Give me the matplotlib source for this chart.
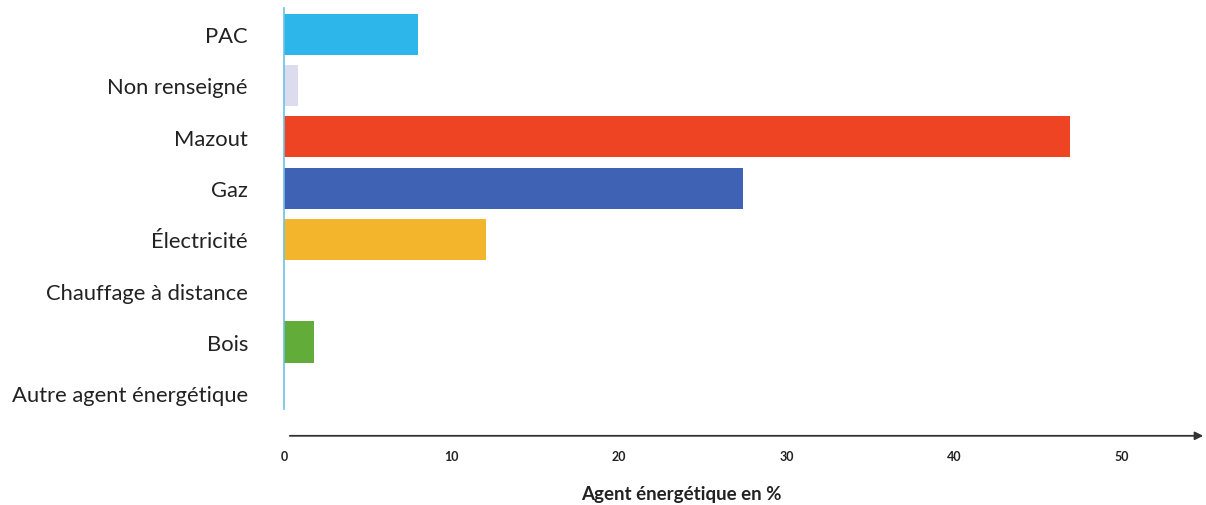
import matplotlib.pyplot as plt

# categories, top to bottom
categories = ["PAC", "Non renseigné", "Mazout", "Gaz", "Électricité",
              "Chauffage à distance", "Bois", "Autre agent énergétique"]
valeurs = [8.0, 0.85, 46.9, 27.4, 12.05, 0.0, 1.8, 0.0]
couleurs = ["#2cb6ea", "#dcdcee", "#ee4424", "#3f62b4", "#f3b52b",
            "#ffffff", "#62ad3a", "#ffffff"]
ticks = [0, 10, 20, 30, 40, 50]

plt.rcParams['font.family'] = ['Lato', 'DejaVu Sans']

fig = plt.figure(figsize=(12.06, 5.06), dpi=100)
ax = fig.add_axes([0.2355, 0.17, 0.7645, 0.8114])

y = list(range(len(categories)))
ax.barh(y, valeurs, height=0.8, color=couleurs)
ax.set_ylim(len(categories) - 0.5, -0.5)
ax.set_xlim(0, 55.0)

ax.set_yticks(y)
ax.set_yticklabels(categories, fontsize=15.8, color="#222222")
ax.tick_params(axis='y', length=0, pad=26)

ax.set_xticks(ticks)
ax.set_xticklabels([str(t) for t in ticks], fontsize=9, fontweight='bold',
                   color="#222222")
ax.tick_params(axis='x', length=0, pad=22)

for s in ['top', 'right', 'bottom']:
    ax.spines[s].set_visible(False)
ax.spines['left'].set_color("#6cc0e6")
ax.spines['left'].set_linewidth(1.2)
ax.spines['left'].set_bounds(-0.5, 7.3)

# fleche de l'axe horizontal
ax.annotate("", xy=(1.0, -0.041), xytext=(0.0033, -0.041),
            xycoords='axes fraction', textcoords='axes fraction',
            arrowprops=dict(arrowstyle='-|>', color="#333333", lw=1.3,
                            mutation_scale=12))

ax.set_xlabel("Agent énergétique en %", fontsize=13.5, fontweight='bold',
              color="#222222")
ax.xaxis.set_label_coords(0.431, -0.16)

fig.savefig("out.png", dpi=100)
